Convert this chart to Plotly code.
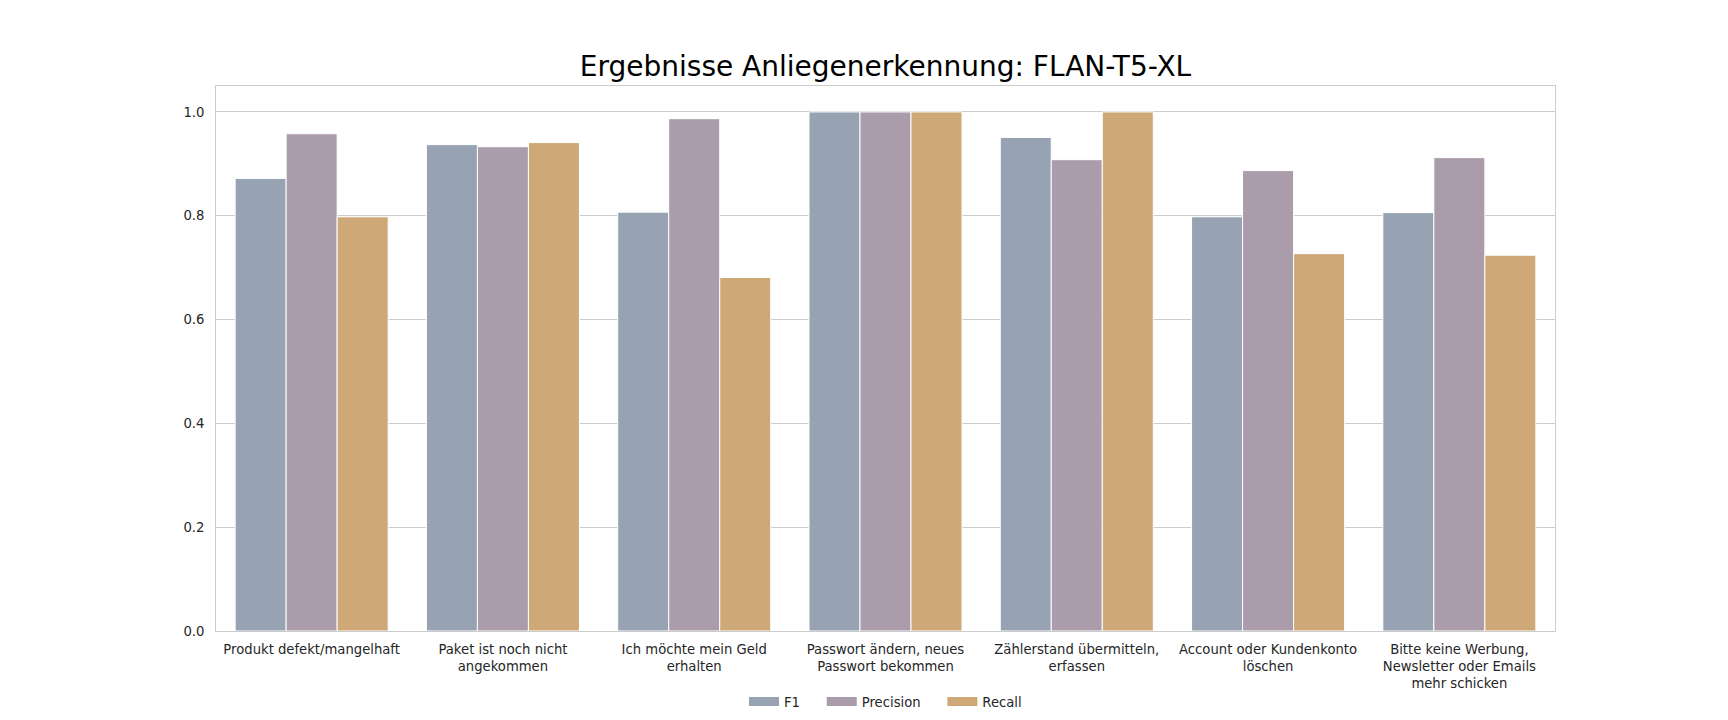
import plotly.graph_objects as go

categories = [
    "Produkt defekt/mangelhaft",
    "Paket ist noch nicht angekommen",
    "Ich möchte mein Geld erhalten",
    "Passwort ändern, neues Passwort bekommen",
    "Zählerstand übermitteln, erfassen",
    "Account oder Kundenkonto löschen",
    "Bitte keine Werbung, Newsletter oder Emails mehr schicken",
]
tick_labels = [
    "Produkt defekt/mangelhaft",
    "Paket ist noch nicht<br>angekommen",
    "Ich möchte mein Geld<br>erhalten",
    "Passwort ändern, neues<br>Passwort bekommen",
    "Zählerstand übermitteln,<br>erfassen",
    "Account oder Kundenkonto<br>löschen",
    "Bitte keine Werbung,<br>Newsletter oder Emails<br>mehr schicken",
]
series_names = ["F1", "Precision", "Recall"]
f1 = [0.872, 0.937, 0.807, 1.0, 0.951, 0.798, 0.806]
precision = [0.958, 0.933, 0.987, 1.0, 0.908, 0.887, 0.912]
recall = [0.798, 0.941, 0.681, 1.0, 1.0, 0.727, 0.724]

colors = ["#97a3b2", "#aa9cab", "#cea977"]
values = [f1, precision, recall]

fig = go.Figure()
for name, vals, col in zip(series_names, values, colors):
    fig.add_trace(go.Bar(
        x=categories, y=vals, name=name, showlegend=False, legendgroup=name,
        marker=dict(color=col, line=dict(color="white", width=1)),
    ))
# legend entries drawn as wide rectangular swatches (like matplotlib's patches)
pad = "\u00a0" * 4
for i, (name, col) in enumerate(zip(series_names, colors)):
    label = name + (pad if i < len(series_names) - 1 else "")
    fig.add_trace(go.Scatter(
        x=[None], y=[None], name=label, legendgroup=name, mode="lines",
        line=dict(color=col, width=9), showlegend=True, hoverinfo="skip",
    ))

font = "DejaVu Sans, sans-serif"
fs = 13.2
fig.update_layout(
    width=1728, height=720,
    barmode="group", bargap=0.2, bargroupgap=0,
    plot_bgcolor="white", paper_bgcolor="white",
    margin=dict(l=208, r=181, t=78, b=96),
    title=dict(text="Ergebnisse Anliegenerkennung: FLAN-T5-XL",
               font=dict(family=font, size=28, color="black"),
               x=(208 + 1547) / 2 / 1728, xanchor="center",
               y=1 - 58 / 720, yanchor="middle"),
    font=dict(family=font, size=fs, color="#262626"),
    legend=dict(orientation="h", x=0.5, xanchor="center", y=-0.128, yanchor="middle",
                font=dict(family=font, size=fs, color="#262626")),
    showlegend=True,
)
fig.update_xaxes(
    tickvals=categories, ticktext=tick_labels,
    showline=True, mirror=True, linecolor="#cccccc", linewidth=1,
    showgrid=False, ticks="outside", ticklen=6, tickcolor="rgba(0,0,0,0)",
    tickfont=dict(family=font, size=fs, color="#262626"),
)
fig.update_yaxes(
    range=[0, 1.05], tickvals=[0, 0.2, 0.4, 0.6, 0.8, 1.0], tickformat=".1f",
    showline=True, mirror=True, linecolor="#cccccc", linewidth=1,
    showgrid=True, gridcolor="#cccccc", gridwidth=1, zeroline=False,
    ticks="outside", ticklen=8, tickcolor="rgba(0,0,0,0)",
    tickfont=dict(family=font, size=fs, color="#262626"),
)

fig.write_html("out.html")
